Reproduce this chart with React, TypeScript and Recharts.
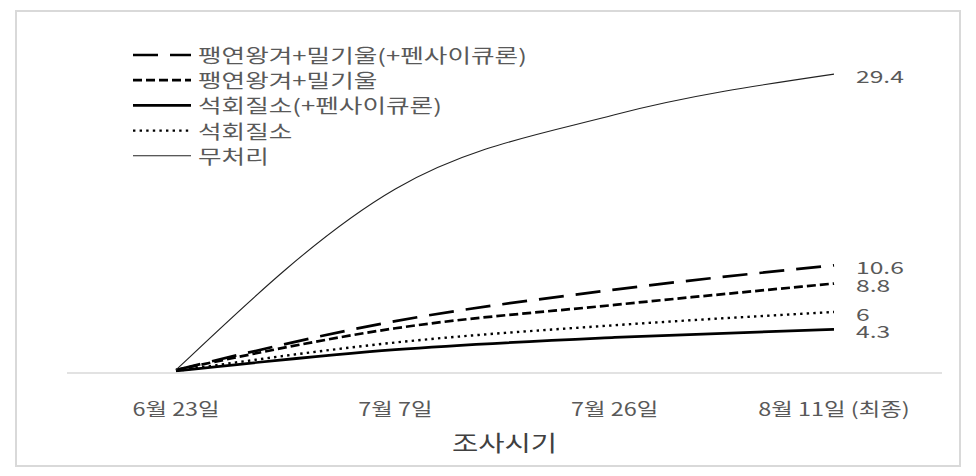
import React from 'react';
import { LineChart, Line, XAxis, YAxis, Legend } from 'recharts';

// ---- data ----
const categories = ['6월 23일', '7월 7일', '7월 26일', '8월 11일 (최종)'];
const seriesNames = [
  '팽연왕겨+밀기울(+펜사이큐론)',
  '팽연왕겨+밀기울',
  '석회질소(+펜사이큐론)',
  '석회질소',
  '무처리',
];
const huskBranPencycuron = [0.3, 5.1, 8.2, 10.6];
const huskBran = [0.3, 4.4, 6.7, 8.8];
const limeNitrogenPencycuron = [0.2, 2.3, 3.5, 4.3];
const limeNitrogen = [0.2, 3.0, 4.7, 6];
const untreated = [0.3, 18.1, 25.4, 29.4];
const xAxisTitle = '조사시기';

const seriesValues = [huskBranPencycuron, huskBran, limeNitrogenPencycuron, limeNitrogen, untreated];
const seriesKeys = ['s0', 's1', 's2', 's3', 's4'];

const data = categories.map((c, i) => {
  const row: any = { name: c };
  seriesKeys.forEach((k, j) => {
    row[k] = seriesValues[j][i];
  });
  return row;
});

// ---- styles ----
const FONT = '"Noto Sans CJK KR", "Noto Sans", sans-serif';
const TEXT_COLOR = '#595959';
const lineStyles = [
  { width: 2.7, dash: '25 12', color: '#000' },
  { width: 2.7, dash: '9 4', color: '#000' },
  { width: 2.7, dash: undefined, color: '#000' },
  { width: 2.4, dash: '2.4 4.2', color: '#000' },
  { width: 1.1, dash: undefined, color: '#222' },
];

const StretchText = ({ x, y, children, size, anchor = 'start', color = TEXT_COLOR, stretch = 1.3 }: any) => (
  <text
    transform={`translate(${x},${y}) scale(${stretch},1)`}
    x={0}
    y={0}
    textAnchor={anchor}
    dominantBaseline="central"
    fontSize={size}
    fontFamily={FONT}
    fill={color}
  >
    {children}
  </text>
);

const renderLegend = () => (
  <svg width={440} height={130} style={{ display: 'block' }}>
    {seriesNames.map((n, i) => {
      const y = 15 + i * 25.2;
      const st = lineStyles[i];
      return (
        <g key={n}>
          <line
            x1={0}
            x2={58}
            y1={y}
            y2={y}
            stroke={st.color}
            strokeWidth={st.width}
            strokeDasharray={st.dash}
          />
          <StretchText x={65} y={y} size={19} stretch={1.35}>
            {n}
          </StretchText>
        </g>
      );
    })}
  </svg>
);

const renderTick = (props: any) => {
  const { x, y, payload } = props;
  return (
    <g>
      <StretchText x={x} y={y + 35} size={18} anchor="middle">
        {payload.value}
      </StretchText>
    </g>
  );
};

const makeEndLabel = () => (props: any) => {
  const { x, y, index, value } = props;
  if (index !== categories.length - 1) return <g />;
  return (
    <StretchText x={x + 22} y={y + 1} size={17} stretch={1.45}>
      {value}
    </StretchText>
  );
};

const renderAxisTitle = (props: any) => {
  const vb = props.viewBox || {};
  return (
    <StretchText x={vb.x + vb.width / 2} y={vb.y + 68} size={22} anchor="middle" color="#404040">
      {xAxisTitle}
    </StretchText>
  );
};

export default function App() {
  return (
    <div
      style={{
        position: 'absolute',
        left: 0,
        top: 0,
        width: 976,
        height: 476,
        background: '#fff',
        overflow: 'hidden',
      }}
    >
      <div
        style={{
          position: 'absolute',
          left: 15,
          top: 10,
          width: 946,
          height: 457,
          border: '2px solid #d9d9d9',
          boxSizing: 'border-box',
          pointerEvents: 'none',
        }}
      />
      <LineChart
        width={976}
        height={476}
        data={data}
        margin={{ top: 68, right: 34, bottom: 0, left: 67 }}
      >
        <XAxis
          dataKey="name"
          height={103}
          padding={{ left: 109, right: 108 }}
          axisLine={{ stroke: '#d9d9d9', strokeWidth: 1.5 }}
          tickLine={false}
          tickSize={0}
          tickMargin={0}
          tick={renderTick}
          interval={0}
          label={{ content: renderAxisTitle }}
        />
        <YAxis hide domain={[0, 30]} />
        <Legend
          layout="vertical"
          align="center"
          verticalAlign="middle"
          content={renderLegend}
          wrapperStyle={{ left: 133, top: 40, width: 440, height: 130 }}
        />
        {seriesKeys.map((k, i) => (
          <Line
            key={k}
            type="monotone"
            dataKey={k}
            name={seriesNames[i]}
            stroke={lineStyles[i].color}
            strokeWidth={lineStyles[i].width}
            strokeDasharray={lineStyles[i].dash}
            dot={false}
            activeDot={false}
            isAnimationActive={false}
            label={makeEndLabel()}
          />
        ))}
      </LineChart>
    </div>
  );
}
